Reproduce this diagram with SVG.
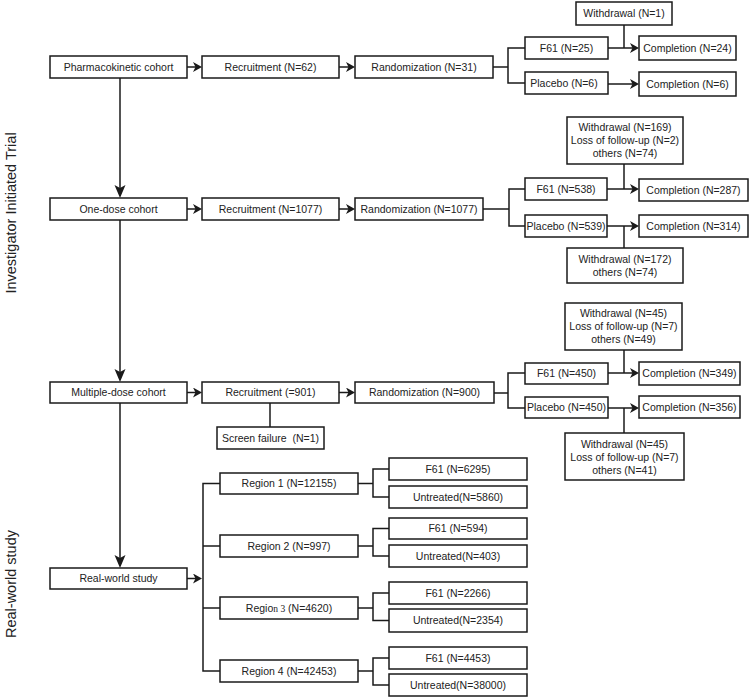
<svg xmlns="http://www.w3.org/2000/svg" width="750" height="698" viewBox="0 0 750 698">
<style>
rect.b{fill:#fff;stroke:#1a1a1a;stroke-width:1.5}
text{font-family:"Liberation Sans",Arial,sans-serif;font-size:10.5px;fill:#222;text-anchor:middle}
text.side{font-size:14.5px}
.c line,.c polyline{fill:none;stroke:#1a1a1a;stroke-width:1.5}
.a{marker-end:url(#ah)}
.v{marker-end:url(#ahb)}
</style>
<defs>
<marker id="ah" markerWidth="10" markerHeight="10" refX="6" refY="5" orient="auto" markerUnits="userSpaceOnUse"><path d="M0,0 L9,5 L0,10 L2.5,5 z" fill="#1a1a1a"/></marker>
<marker id="ahb" markerWidth="14" markerHeight="12" refX="10" refY="5.5" orient="auto" markerUnits="userSpaceOnUse"><path d="M0,0 L13,5.5 L0,11 L3,5.5 z" fill="#1a1a1a"/></marker>
</defs>
<rect width="750" height="698" fill="#fff"/>
<text class="side" transform="translate(16,213) rotate(-90)">Investigator Initiated Trial</text>
<text class="side" transform="translate(16,584) rotate(-90)">Real-world study</text>
<g class="c" id="connectors">
<line class="a" x1="187" y1="67" x2="199" y2="67"/>
<line class="a" x1="339" y1="67" x2="352" y2="67"/>
<polyline points="493,67 508,67"/>
<polyline points="525,48 508,48 508,83 525,83"/>
<line class="a" x1="608" y1="48" x2="636" y2="48"/>
<line class="a" x1="608" y1="84" x2="636" y2="84"/>
<line x1="624" y1="25" x2="624" y2="48"/>
<line class="v" x1="120" y1="78" x2="120" y2="195"/>
<line class="a" x1="187" y1="209" x2="199" y2="209"/>
<line class="a" x1="339" y1="209" x2="352" y2="209"/>
<polyline points="483,209 509,209"/>
<polyline points="525,189 509,189 509,226 525,226"/>
<line class="a" x1="607" y1="189" x2="636" y2="189"/>
<line class="a" x1="607" y1="226" x2="636" y2="226"/>
<line x1="624" y1="164" x2="624" y2="189"/>
<line x1="624" y1="226" x2="624" y2="248"/>
<line class="v" x1="120" y1="220" x2="120" y2="379"/>
<line class="a" x1="187" y1="392.5" x2="199" y2="392.5"/>
<line class="a" x1="339" y1="392.5" x2="352" y2="392.5"/>
<line x1="270" y1="403" x2="270" y2="427"/>
<polyline points="494,393 508,393"/>
<polyline points="525,373 508,373 508,408 525,408"/>
<line class="a" x1="608" y1="373" x2="636" y2="373"/>
<line class="a" x1="608" y1="408" x2="636" y2="408"/>
<line x1="624" y1="350" x2="624" y2="373"/>
<line x1="624" y1="408" x2="624" y2="433"/>
<line class="v" x1="120" y1="403" x2="120" y2="565"/>
<line class="a" x1="187" y1="578.5" x2="199" y2="578.5"/>
<polyline points="220,483.5 203,483.5 203,671 220,671"/>
<line x1="203" y1="546" x2="220" y2="546"/>
<line x1="203" y1="608" x2="220" y2="608"/>
<line x1="358" y1="483.5" x2="373" y2="483.5"/>
<polyline points="389,469 373,469 373,497 389,497"/>
<line x1="358" y1="546" x2="373" y2="546"/>
<polyline points="389,528.5 373,528.5 373,556 389,556"/>
<line x1="358" y1="608" x2="373" y2="608"/>
<polyline points="389,593 373,593 373,620.5 389,620.5"/>
<line x1="358" y1="671" x2="373" y2="671"/>
<polyline points="389,658 373,658 373,685 389,685"/>
</g>
<g id="pk"><rect class="b" x="50" y="56" width="137" height="22"/><text x="118.5" y="70.7">Pharmacokinetic cohort</text></g>
<g id="rec1"><rect class="b" x="202" y="56" width="137" height="22"/><text x="270.5" y="70.7">Recruitment (N=62)</text></g>
<g id="rand1"><rect class="b" x="355" y="56" width="138" height="22"/><text x="424" y="70.7">Randomization (N=31)</text></g>
<g id="f61-1"><rect class="b" x="525" y="37" width="83" height="22"/><text x="566.5" y="51.7">F61 (N=25)</text></g>
<g id="plac1"><rect class="b" x="525" y="72" width="83" height="22"/><text x="564" y="86.7">Placebo (N=6)</text></g>
<g id="comp1a"><rect class="b" x="639" y="36" width="97" height="24"/><text x="687.5" y="51.7">Completion (N=24)</text></g>
<g id="comp1b"><rect class="b" x="639" y="72" width="97" height="24"/><text x="687.5" y="87.7">Completion (N=6)</text></g>
<g id="w1"><rect class="b" x="576" y="2" width="96" height="23"/><text x="624" y="17.2">Withdrawal (N=1)</text></g>
<g id="od"><rect class="b" x="50" y="198" width="137" height="22"/><text x="118.5" y="212.7">One-dose cohort</text></g>
<g id="rec2"><rect class="b" x="202" y="198" width="137" height="22"/><text x="270.5" y="212.7">Recruitment (N=1077)</text></g>
<g id="rand2"><rect class="b" x="355" y="198" width="128" height="22"/><text x="419" y="212.7">Randomization (N=1077)</text></g>
<g id="f61-2"><rect class="b" x="525" y="178" width="82" height="22"/><text x="566" y="192.7">F61 (N=538)</text></g>
<g id="plac2"><rect class="b" x="525" y="215" width="82" height="22"/><text x="566" y="229.7">Placebo (N=539)</text></g>
<g id="comp2a"><rect class="b" x="639" y="179" width="109" height="22"/><text x="693.5" y="193.7">Completion (N=287)</text></g>
<g id="comp2b"><rect class="b" x="639" y="215" width="109" height="22"/><text x="693.5" y="229.7">Completion (N=314)</text></g>
<g id="w2a"><rect class="b" x="567" y="117" width="116" height="47"/><text x="625" y="130.7">Withdrawal (N=169)</text><text x="625" y="143.7">Loss of follow-up (N=2)</text><text x="625" y="156.7">others (N=74)</text></g>
<g id="w2b"><rect class="b" x="567" y="248" width="116" height="35"/><text x="625" y="262.5">Withdrawal (N=172)</text><text x="625" y="275.5">others (N=74)</text></g>
<g id="md"><rect class="b" x="50" y="382" width="137" height="21"/><text x="118.5" y="396.2">Multiple-dose cohort</text></g>
<g id="rec3"><rect class="b" x="202" y="382" width="137" height="21"/><text x="270.5" y="396.2">Recruitment (=901)</text></g>
<g id="sf"><rect class="b" x="217" y="427" width="107" height="22"/><text x="270.5" y="441.7" xml:space="preserve">Screen failure  (N=1)</text></g>
<g id="rand3"><rect class="b" x="355" y="382" width="139" height="21"/><text x="424.5" y="396.2">Randomization (N=900)</text></g>
<g id="f61-3"><rect class="b" x="525" y="363" width="83" height="21"/><text x="566.5" y="377.2">F61 (N=450)</text></g>
<g id="plac3"><rect class="b" x="525" y="397" width="83" height="21"/><text x="566.5" y="411.2">Placebo (N=450)</text></g>
<g id="comp3a"><rect class="b" x="639" y="362" width="101" height="23"/><text x="689.5" y="377.2">Completion (N=349)</text></g>
<g id="comp3b"><rect class="b" x="639" y="396" width="101" height="22"/><text x="689.5" y="410.7">Completion (N=356)</text></g>
<g id="w3a"><rect class="b" x="565" y="303" width="117" height="47"/><text x="623.5" y="316.7">Withdrawal (N=45)</text><text x="623.5" y="329.7">Loss of follow-up (N=7)</text><text x="623.5" y="342.7">others (N=49)</text></g>
<g id="w3b"><rect class="b" x="565" y="433" width="119" height="47"/><text x="624.5" y="447.7">Withdrawal (N=45)</text><text x="624.5" y="460.7">Loss of follow-up (N=7)</text><text x="624.5" y="473.7">others (N=41)</text></g>
<g id="rw"><rect class="b" x="50" y="568" width="137" height="21"/><text x="118.5" y="582.2">Real-world study</text></g>
<g id="r1"><rect class="b" x="220" y="473" width="138" height="21"/><text x="289" y="487.2">Region 1 (N=12155)</text></g>
<g id="r2"><rect class="b" x="220" y="535" width="138" height="22"/><text x="289" y="549.7">Region 2 (N=997)</text></g>
<g id="r3"><rect class="b" x="220" y="597" width="138" height="22"/><text x="289" y="611.7">Regio<tspan font-family="'Liberation Serif',serif" font-size="9.5px">n 3</tspan> (N=4620)</text></g>
<g id="r4"><rect class="b" x="220" y="660" width="138" height="22"/><text x="289" y="674.7">Region 4 (N=42453)</text></g>
<g id="r1f"><rect class="b" x="389" y="458" width="138" height="22"/><text x="458" y="472.7">F61 (N=6295)</text></g>
<g id="r1u"><rect class="b" x="389" y="486" width="138" height="22"/><text x="458" y="500.7">Untreated(N=5860)</text></g>
<g id="r2f"><rect class="b" x="389" y="518" width="138" height="21"/><text x="458" y="532.2">F61 (N=594)</text></g>
<g id="r2u"><rect class="b" x="389" y="545" width="138" height="22"/><text x="458" y="559.7">Untreated(N=403)</text></g>
<g id="r3f"><rect class="b" x="389" y="582" width="138" height="22"/><text x="458" y="596.7">F61 (N=2266)</text></g>
<g id="r3u"><rect class="b" x="389" y="609" width="138" height="23"/><text x="458" y="624.2">Untreated(N=2354)</text></g>
<g id="r4f"><rect class="b" x="389" y="647" width="138" height="22"/><text x="458" y="661.7">F61 (N=4453)</text></g>
<g id="r4u"><rect class="b" x="389" y="674" width="138" height="22"/><text x="458" y="688.7">Untreated(N=38000)</text></g>
</svg>
